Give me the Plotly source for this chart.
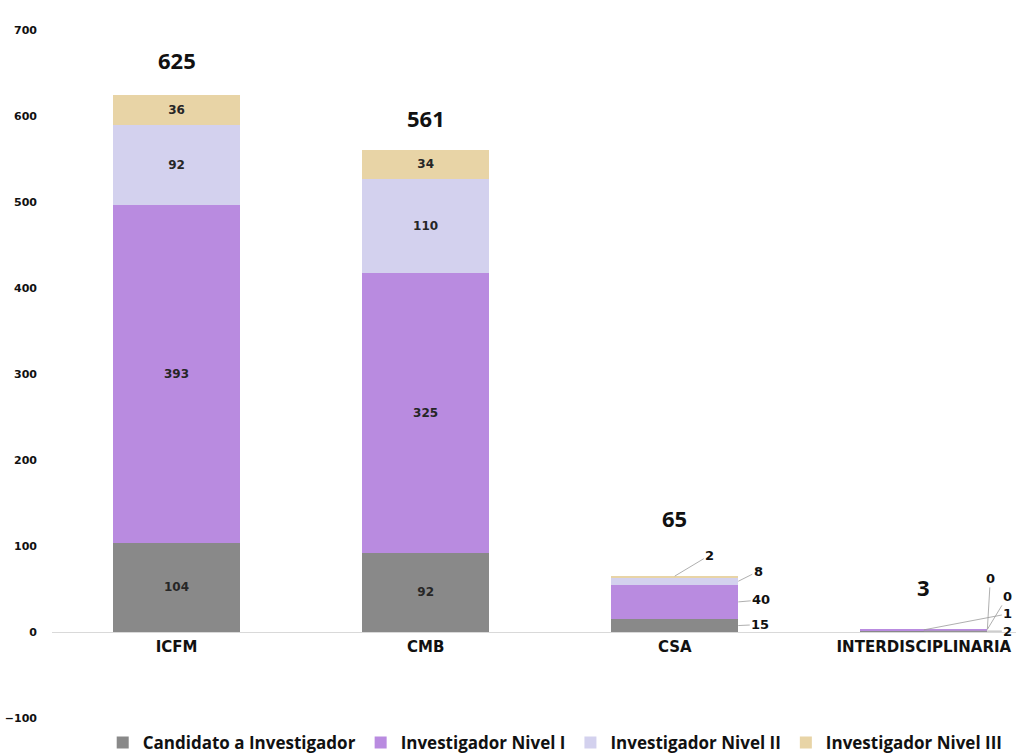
import plotly.graph_objects as go

categories = ["ICFM", "CMB", "CSA", "INTERDISCIPLINARIA"]
series_names = ["Candidato a Investigador", "Investigador Nivel I",
                "Investigador Nivel II", "Investigador Nivel III"]
candidato = [104, 92, 15, 2]
nivel_1 = [393, 325, 40, 1]
nivel_2 = [92, 110, 8, 0]
nivel_3 = [36, 34, 2, 0]
y_ticks = [-100, 0, 100, 200, 300, 400, 500, 600, 700]

series_values = [candidato, nivel_1, nivel_2, nivel_3]
colors = ["#898989", "#b98be0", "#d3d1ee", "#e8d4a6"]
totals = [sum(v) for v in zip(*series_values)]

WIDE = "'DejaVu Sans', sans-serif"

fig = go.Figure()
for name, vals, col in zip(series_names, series_values, colors):
    txt = [str(v) if t >= 100 else "" for v, t in zip(vals, totals)]
    fig.add_trace(go.Bar(
        name=name, x=categories, y=vals, marker=dict(color=col, line=dict(width=0)),
        text=txt, textposition="inside", insidetextanchor="middle",
        textangle=0,
        textfont=dict(family=WIDE, size=12, color="#262626", weight=700),
        hoverinfo="skip",
    ))

annotations = []
# totals above bars
total_shift = [35, 32, 58, 42]
for i, (c, t) in enumerate(zip(categories, totals)):
    annotations.append(dict(
        x=c, y=t, text=str(t), showarrow=False, yshift=total_shift[i],
        font=dict(family="'Open Sans'", size=22, color="#111111", weight=700),
    ))

# outside leader-line labels for small bars
# (series index, arrow x offset in category units, ax, ay)
leader_styles = {
    2: [(0, 0.255, 22, -1), (1, 0.255, 23, -2), (2, 0.255, 20, -10), (3, 0.0, 35, -21)],
    3: [(0, 0.0, 84, 0), (1, 0.0, 84, -16), (2, 0.255, 20, -33), (3, 0.255, 3, -51)],
}
for ci, specs in leader_styles.items():
    base = 0
    bases = []
    for s in range(4):
        bases.append(base)
        base += series_values[s][ci]
    for s, dx, ax, ay in specs:
        v = series_values[s][ci]
        ymid = bases[s] + v / 2
        if ci == 2 and s == 3:
            ymid = bases[s] + v
        annotations.append(dict(
            x=ci + dx, y=ymid, xref="x", yref="y", text=str(v),
            showarrow=True, arrowhead=0, arrowwidth=0.8, arrowcolor="#9a9a9a",
            ax=ax, ay=ay, standoff=0,
            font=dict(family=WIDE, size=13, color="#111111", weight=700),
        ))

fig.update_layout(
    width=1016, height=754,
    margin=dict(l=52, r=0, t=30, b=36, autoexpand=False),
    paper_bgcolor="white", plot_bgcolor="white",
    barmode="stack", bargap=0.49,
    showlegend=True,
    legend=dict(orientation="h", x=0.522, xanchor="center",
                yref="container", y=0.0146, yanchor="middle",
                font=dict(family="'Open Sans'", size=17, color="#111111", weight=700),
                itemwidth=30, traceorder="normal"),
    annotations=annotations,
    xaxis=dict(range=[-0.5, 3.37], showgrid=False, showline=False, ticks="",
               anchor="free", position=0.125, automargin=False,
               ticklabelstandoff=4,
               tickfont=dict(family=WIDE, size=15, color="#111111", weight=700)),
    yaxis=dict(range=[-100, 700], tickvals=y_ticks, showgrid=False, showline=False,
               zeroline=True, zerolinecolor="#d9d9d9", zerolinewidth=1,
               ticks="", ticklabelstandoff=14, automargin=False,
               tickfont=dict(family=WIDE, size=11, color="#111111", weight=700)),
)

fig.write_html("out.html", config={"displayModeBar": False},
               post_script="document.body.style.margin='0';document.body.style.overflow='hidden';")
